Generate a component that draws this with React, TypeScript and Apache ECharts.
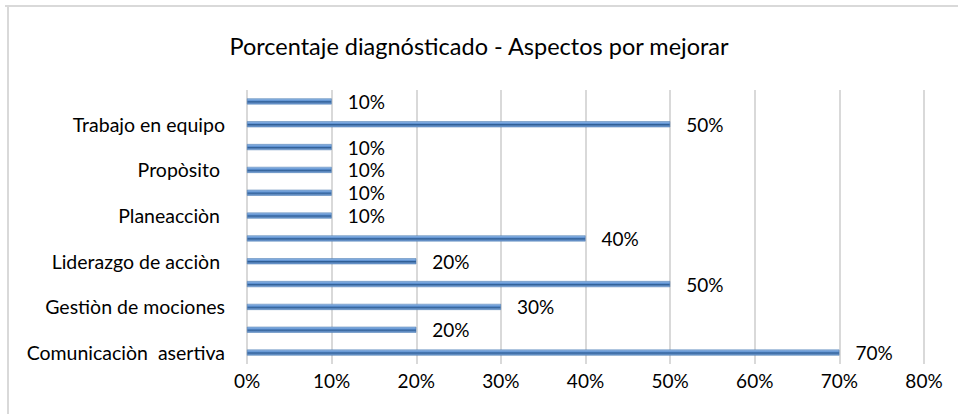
import React, { useEffect, useRef } from "react";
import * as echarts from "echarts";

const title = "Porcentaje diagnósticado - Aspectos por mejorar";
// bottom to top
const categories = [
  "Comunicaciòn  asertiva",
  "",
  "Gestiòn de mociones",
  "",
  "Liderazgo de acciòn ",
  "",
  "Planeacciòn ",
  "",
  "Propòsito ",
  "",
  "Trabajo en equipo",
  "",
];
const values = [70, 20, 30, 50, 20, 40, 10, 10, 10, 10, 50, 10];
const xTicks = [0, 10, 20, 30, 40, 50, 60, 70, 80];

const FONT = "Lato, sans-serif";

export default function App() {
  const ref = useRef<HTMLDivElement>(null);
  useEffect(() => {
    if (!ref.current) return;
    const chart = echarts.init(ref.current, null, { renderer: "svg" });
    chart.setOption({
      animation: false,
      backgroundColor: "#ffffff",
      title: {
        text: title,
        left: "center",
        top: 29,
        textStyle: { fontFamily: FONT, fontSize: 23.5, fontWeight: "normal", color: "#000" },
      },
      graphic: [
        { type: "line", shape: { x1: 5, y1: 6, x2: 958, y2: 6 }, style: { stroke: "#d9d9d9", lineWidth: 2 } },
        { type: "line", shape: { x1: 8, y1: 6, x2: 8, y2: 414 }, style: { stroke: "#d9d9d9", lineWidth: 2 } },
      ],
      grid: { left: 247, right: 34, top: 90, bottom: 50, containLabel: false },
      xAxis: {
        type: "value",
        min: 0,
        max: 80,
        interval: 10,
        axisLine: { show: false },
        axisTick: { show: false },
        splitLine: { show: true, lineStyle: { color: "#d9d9d9", width: 2 } },
        axisLabel: {
          formatter: (v: number) => (xTicks.includes(v) ? v + "%" : ""),
          fontFamily: FONT,
          fontSize: 19,
          color: "#000",
          margin: 7,
        },
      },
      yAxis: {
        type: "category",
        data: categories,
        axisLine: { show: false },
        axisTick: { show: false },
        axisLabel: {
          interval: 0,
          fontFamily: FONT,
          fontSize: 19.5,
          color: "#000",
          margin: 22,
        },
      },
      series: [
        {
          type: "bar",
          data: values,
          barWidth: 6,
          itemStyle: {
            color: new echarts.graphic.LinearGradient(0, 0, 0, 1, [
              { offset: 0, color: "#9cc0ea" },
              { offset: 0.4, color: "#5b8fd0" },
              { offset: 0.55, color: "#2f5e95" },
              { offset: 1, color: "#80aae0" },
            ]),
            borderColor: "#4172ab",
            borderWidth: 0.5,
          },
          label: {
            show: true,
            position: "right",
            distance: 16,
            formatter: (p: any) => p.value + "%",
            fontFamily: FONT,
            fontSize: 19,
            color: "#000",
          },
        },
      ],
    });
    return () => chart.dispose();
  }, []);
  return (
    <div
      ref={ref}
      style={{ position: "fixed", left: 0, top: 0, width: 958, height: 414, background: "#fff" }}
    />
  );
}
